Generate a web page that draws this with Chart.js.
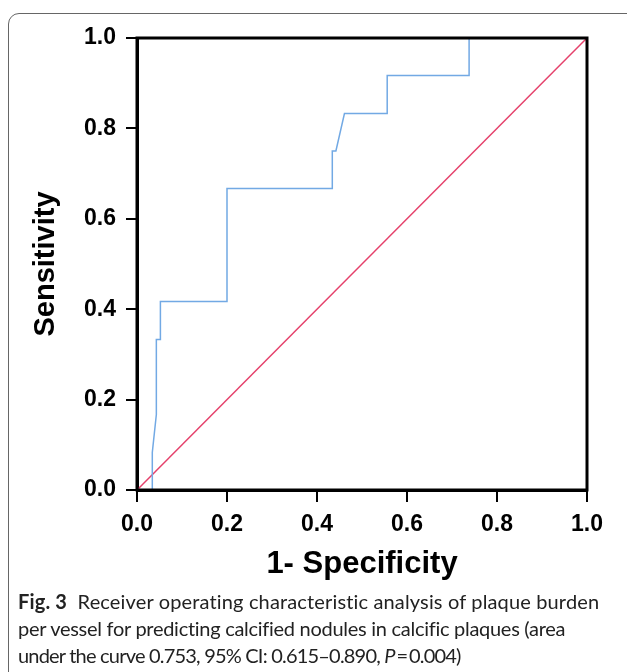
<!DOCTYPE html>
<html>
<head>
<meta charset="utf-8">
<script src="https://cdn.jsdelivr.net/npm/chart.js@4.4.0/dist/chart.umd.min.js"></script>
<style>
    html, body { margin: 0; padding: 0; background: #fff; overflow: hidden; }
    #frame {
        position: absolute; left: 8px; top: 13px; width: 640px; height: 700px;
        border: 1px solid #666; border-radius: 11px;
    }
    #rocChart { position: absolute; left: 0; top: 0; }
    #caption {
        position: absolute; left: 18px; top: 588px; width: 605px;
        font-family: Lato, "Noto Sans", sans-serif; font-size: 20px; line-height: 27px;
        color: #222; white-space: nowrap;
    }
    #caption span { display: block; }
    #caption b { font-weight: bold; }
</style>
</head>
<body>
<div id="frame"></div>
<canvas id="rocChart" width="627" height="595"></canvas>
<div id="caption">
    <span style="letter-spacing:0.15px"><b>Fig. 3</b>&nbsp; Receiver operating characteristic analysis of plaque burden</span>
    <span style="letter-spacing:-0.28px">per vessel for predicting calcified nodules in calcific plaques (area</span>
    <span style="letter-spacing:-0.8px">under the curve 0.753, 95% CI: 0.615–0.890, <i>P</i>&thinsp;=&thinsp;0.004)</span>
</div>

<script>
// ROC curve (1 - specificity, sensitivity)
const fprValues = [0.034, 0.034, 0.043, 0.043, 0.052, 0.052, 0.200, 0.200, 0.434, 0.434, 0.442, 0.461, 0.556, 0.556, 0.738, 0.738];
const tprValues = [0.000, 0.083, 0.167, 0.333, 0.333, 0.417, 0.417, 0.667, 0.667, 0.750, 0.750, 0.833, 0.833, 0.917, 0.917, 1.000];
// reference line
const refX = [0, 1];
const refY = [0, 1];
const tickValues = [0, 0.2, 0.4, 0.6, 0.8, 1.0];

const tickFont = { family: 'Liberation Sans, Arial, sans-serif', weight: 'bold', size: 23 };

// draws the black box round the plot on top of the lines
const framePlugin = {
    id: 'frame',
    afterDatasetsDraw(chart) {
        const a = chart.chartArea;
        const c = chart.ctx;
        c.save();
        c.strokeStyle = '#000';
        c.lineWidth = 3;
        c.strokeRect(a.left, a.top, a.right - a.left, a.bottom - a.top);
        c.restore();
    }
};

const ctx = document.getElementById('rocChart').getContext('2d');
new Chart(ctx, {
    type: 'line',
    data: {
        datasets: [
            {
                data: fprValues.map((x, i) => ({ x: x, y: tprValues[i] })),
                borderColor: '#72a9e4',
                borderWidth: 1.5,
                pointRadius: 0,
                tension: 0,
                fill: false
            },
            {
                data: refX.map((x, i) => ({ x: x, y: refY[i] })),
                borderColor: '#e5416b',
                borderWidth: 1.5,
                pointRadius: 0,
                fill: false
            }
        ]
    },
    options: {
        responsive: false,
        animation: false,
        devicePixelRatio: 1,
        layout: { padding: { left: 0, top: 38, right: 40, bottom: 0 } },
        plugins: { legend: { display: false }, tooltip: { enabled: false } },
        scales: {
            x: {
                type: 'linear',
                min: 0, max: 1,
                afterBuildTicks: s => { s.ticks = tickValues.map(v => ({ value: v })); },
                afterFit: s => { s.height = 105; },
                grid: { drawOnChartArea: false, color: '#000', lineWidth: 2, tickLength: 12 },
                border: { color: '#000', width: 3 },
                ticks: {
                    color: '#000', font: tickFont, padding: 9, maxRotation: 0,
                    callback: v => v.toFixed(1)
                },
                title: {
                    display: true, text: '1- Specificity', color: '#000',
                    font: { family: 'Liberation Sans, Arial, sans-serif', weight: 'bold', size: 31 },
                    padding: { top: 0, bottom: 12 }
                }
            },
            y: {
                type: 'linear',
                min: 0, max: 1,
                afterBuildTicks: s => { s.ticks = tickValues.map(v => ({ value: v })); },
                afterFit: s => { s.width = 137; },
                grid: { drawOnChartArea: false, color: '#000', lineWidth: 2, tickLength: 11 },
                border: { color: '#000', width: 3 },
                ticks: {
                    color: '#000', font: tickFont, padding: 10,
                    callback: v => v.toFixed(1)
                },
                title: {
                    display: true, text: 'Sensitivity', color: '#000',
                    font: { family: 'Liberation Sans, Arial, sans-serif', weight: 'bold', size: 29 },
                    padding: { top: 29, bottom: 0 }
                }
            }
        }
    },
    plugins: [framePlugin]
});
</script>
</body>
</html>
